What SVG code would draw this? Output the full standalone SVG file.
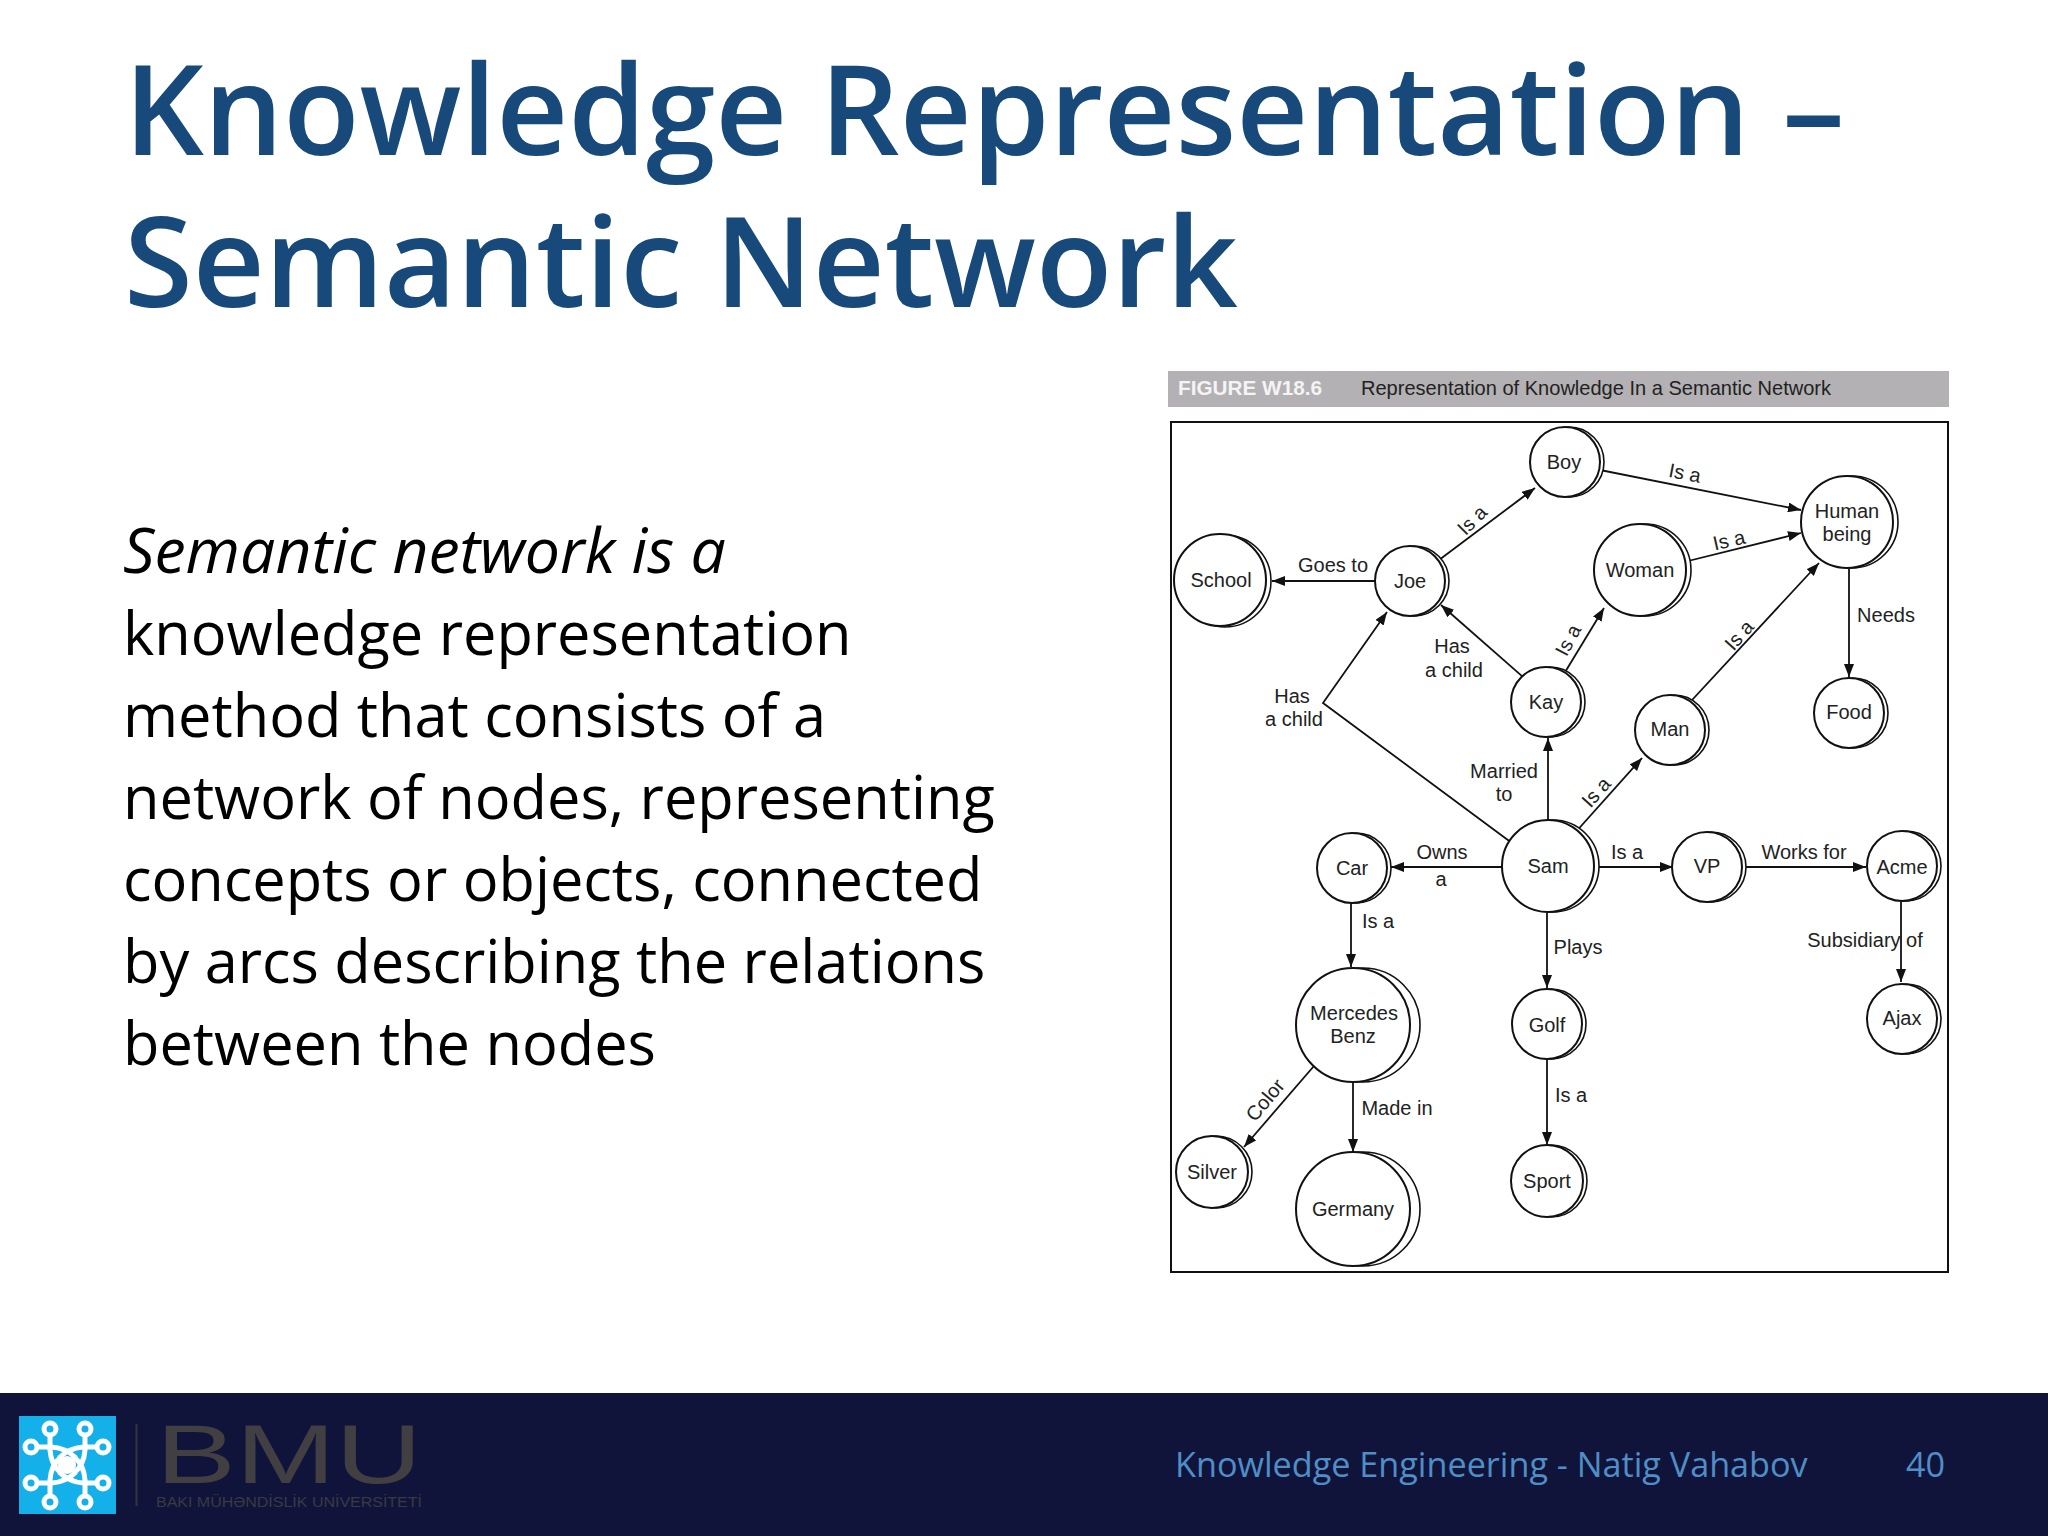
<svg xmlns="http://www.w3.org/2000/svg" width="2048" height="1536" viewBox="0 0 2048 1536">
<style>
.title{font-family:"Open Sans",sans-serif;font-weight:600;font-size:125px;fill:#17497a}
.body{font-family:"Open Sans",sans-serif;font-size:59.500px;fill:#000}
.foot{font-family:"Open Sans",sans-serif;font-size:34.200px;fill:#4f8ec6}
.nt{font-family:"Liberation Sans",Arial,sans-serif;font-size:20px;fill:#222;text-anchor:middle}
.lb{font-family:"Liberation Sans",Arial,sans-serif;font-size:20px;fill:#222;text-anchor:middle}
.m{fill:#fff;stroke:#111;stroke-width:2}
.s{fill:#fff;stroke:#111;stroke-width:1.6}
.c{fill:none;stroke:#111;stroke-width:1.8;marker-end:url(#ah)}
.lg{fill:none;stroke:#fff;stroke-width:5}
</style>
<defs>
<marker id="ah" markerUnits="userSpaceOnUse" markerWidth="14" markerHeight="10" refX="13" refY="5" orient="auto"><path d="M0 0L13 5L0 10z" fill="#111"/></marker>
</defs>
<rect width="2048" height="1536" fill="#fff"/>
<text class="title" x="124" y="155">Knowledge Representation –</text>
<text class="title" x="124" y="307">Semantic Network</text>
<g id="body-text">
<text class="body" x="123" y="573" font-style="italic" style="font-size:62.500px">Semantic network is a</text>
<text class="body" x="123" y="655">knowledge representation</text>
<text class="body" x="123" y="737">method that consists of a</text>
<text class="body" x="123" y="819">network of nodes, representing</text>
<text class="body" x="123" y="901">concepts or objects, connected</text>
<text class="body" x="123" y="983">by arcs describing the relations</text>
<text class="body" x="123" y="1065">between the nodes</text>
</g>
<g id="figure-header">
<rect x="1168" y="371" width="781" height="36" fill="#b3b1b3"/>
<text x="1178" y="395" font-family="'Liberation Sans',Arial,sans-serif" font-weight="700" font-size="20" fill="#f4f4f4" textLength="144" lengthAdjust="spacingAndGlyphs">FIGURE W18.6</text>
<text x="1361" y="395" font-family="'Liberation Sans',Arial,sans-serif" font-size="21" fill="#222" textLength="470" lengthAdjust="spacingAndGlyphs">Representation of Knowledge In a Semantic Network</text>
</g>
<rect id="figure-frame" x="1171" y="422" width="777" height="850" fill="#fff" stroke="#111" stroke-width="2"/>
<g id="connectors">
<path class="c" d="M1377 581H1272"/>
<path class="c" d="M1431 566L1535 488"/>
<path class="c" d="M1590 468L1801 510"/>
<path class="c" d="M1680 563L1801 533"/>
<path class="c" d="M1531 684L1441 605"/>
<path class="c" d="M1556 687L1604 608"/>
<path class="c" d="M1680 713L1819 563"/>
<path class="c" d="M1849 569V677"/>
<path class="c" d="M1520 849L1323 703L1387 612"/>
<path class="c" d="M1548 820V738"/>
<path class="c" d="M1565 844L1642 758"/>
<path class="c" d="M1503 867H1391"/>
<path class="c" d="M1599 867H1673"/>
<path class="c" d="M1745 867H1866"/>
<path class="c" d="M1351 903V967"/>
<path class="c" d="M1547 913V988"/>
<path class="c" d="M1901 902V982"/>
<path class="c" d="M1320 1059L1244 1147"/>
<path class="c" d="M1353 1082V1152"/>
<path class="c" d="M1547 1059V1145"/>
<g id="connector-labels">
<text class="lb" x="1333" y="572">Goes to</text>
<text class="lb" transform="translate(1472 520) rotate(-45)" y="7">Is a</text>
<text class="lb" transform="translate(1685 473) rotate(11)" y="7">Is a</text>
<text class="lb" transform="translate(1729 540) rotate(-13)" y="7">Is a</text>
<text class="lb" x="1452" y="653">Has</text>
<text class="lb" x="1454" y="677">a child</text>
<text class="lb" transform="translate(1568 640) rotate(-62)" y="7">Is a</text>
<text class="lb" transform="translate(1739 635) rotate(-48)" y="7">Is a</text>
<text class="lb" x="1886" y="622">Needs</text>
<text class="lb" x="1292" y="703">Has</text>
<text class="lb" x="1294" y="726">a child</text>
<text class="lb" x="1504" y="778">Married</text>
<text class="lb" x="1504" y="801">to</text>
<text class="lb" transform="translate(1596 792) rotate(-48)" y="7">Is a</text>
<text class="lb" x="1442" y="859">Owns</text>
<text class="lb" x="1441" y="886">a</text>
<text class="lb" x="1627" y="859">Is a</text>
<text class="lb" x="1804" y="859">Works for</text>
<text class="lb" x="1378" y="928">Is a</text>
<text class="lb" x="1578" y="954">Plays</text>
<text class="lb" x="1865" y="947">Subsidiary of</text>
<text class="lb" transform="translate(1265 1100) rotate(-50)" y="7">Color</text>
<text class="lb" x="1397" y="1115">Made in</text>
<text class="lb" x="1571" y="1102">Is a</text>
</g>
</g>
<g id="school"><circle class="s" cx="1225" cy="581" r="46"/><circle class="m" cx="1220" cy="580" r="46"/><text class="nt" x="1221" y="587">School</text></g>
<g id="joe"><circle class="s" cx="1414" cy="581" r="35"/><circle class="m" cx="1410" cy="581" r="35"/><text class="nt" x="1410" y="588">Joe</text></g>
<g id="boy"><circle class="s" cx="1569" cy="462" r="35"/><circle class="m" cx="1565" cy="462" r="35"/><text class="nt" x="1564" y="469">Boy</text></g>
<g id="woman"><circle class="s" cx="1645" cy="570" r="46"/><circle class="m" cx="1640" cy="570" r="46"/><text class="nt" x="1640" y="577">Woman</text></g>
<g id="human-being"><circle class="s" cx="1852" cy="522" r="46"/><circle class="m" cx="1847" cy="522" r="46"/><text class="nt" x="1847" y="518">Human</text><text class="nt" x="1847" y="541">being</text></g>
<g id="kay"><circle class="s" cx="1550" cy="702" r="35"/><circle class="m" cx="1546" cy="702" r="35"/><text class="nt" x="1546" y="709">Kay</text></g>
<g id="man"><circle class="s" cx="1674" cy="730" r="35"/><circle class="m" cx="1670" cy="730" r="35"/><text class="nt" x="1670" y="736">Man</text></g>
<g id="food"><circle class="s" cx="1853" cy="713" r="35"/><circle class="m" cx="1849" cy="713" r="35"/><text class="nt" x="1849" y="719">Food</text></g>
<g id="sam"><circle class="s" cx="1553" cy="866" r="46"/><circle class="m" cx="1548" cy="866" r="46"/><text class="nt" x="1548" y="873">Sam</text></g>
<g id="car"><circle class="s" cx="1356" cy="868" r="35"/><circle class="m" cx="1352" cy="868" r="35"/><text class="nt" x="1352" y="875">Car</text></g>
<g id="vp"><circle class="s" cx="1711" cy="867" r="35"/><circle class="m" cx="1707" cy="867" r="35"/><text class="nt" x="1707" y="873">VP</text></g>
<g id="acme"><circle class="s" cx="1906" cy="866" r="35"/><circle class="m" cx="1902" cy="866" r="35"/><text class="nt" x="1902" y="874">Acme</text></g>
<g id="mercedes-benz"><circle class="s" cx="1363" cy="1025" r="57"/><circle class="m" cx="1353" cy="1025" r="57"/><text class="nt" x="1354" y="1020">Mercedes</text><text class="nt" x="1353" y="1043">Benz</text></g>
<g id="golf"><circle class="s" cx="1551" cy="1024" r="35"/><circle class="m" cx="1547" cy="1024" r="35"/><text class="nt" x="1547" y="1032">Golf</text></g>
<g id="ajax"><circle class="s" cx="1906" cy="1019" r="35"/><circle class="m" cx="1902" cy="1019" r="35"/><text class="nt" x="1902" y="1025">Ajax</text></g>
<g id="silver"><circle class="s" cx="1216" cy="1172" r="36"/><circle class="m" cx="1212" cy="1172" r="36"/><text class="nt" x="1212" y="1179">Silver</text></g>
<g id="germany"><circle class="s" cx="1363" cy="1209" r="57"/><circle class="m" cx="1353" cy="1209" r="57"/><text class="nt" x="1353" y="1216">Germany</text></g>
<g id="sport"><circle class="s" cx="1551" cy="1181" r="36"/><circle class="m" cx="1547" cy="1181" r="36"/><text class="nt" x="1547" y="1188">Sport</text></g>
<g id="footer">
<rect y="1393" width="2048" height="143" fill="#10143a"/>
<text class="foot" x="1175" y="1477">Knowledge Engineering - Natig Vahabov</text>
<text class="foot" x="1906" y="1477">40</text>
<rect x="19" y="1416" width="97" height="98" fill="#13b0ea"/>
<g class="lg">
<circle cx="50" cy="1429" r="6"/><circle cx="85" cy="1429" r="6"/><circle cx="31" cy="1447" r="6"/><circle cx="103" cy="1447" r="6"/><circle cx="31" cy="1483" r="6"/><circle cx="103" cy="1483" r="6"/><circle cx="50" cy="1502" r="6"/><circle cx="85" cy="1502" r="6"/>
<path d="M50 1435V1450Q51 1465 61 1473M85 1435V1450Q84 1465 74 1473M37 1447H52Q66 1448 76 1458M97 1447H83Q69 1448 59 1458M37 1483H52Q66 1482 76 1472M97 1483H83Q69 1482 59 1472M50 1496V1480Q51 1465 61 1457M85 1496V1480Q84 1465 74 1457"/>
</g>
<circle cx="67" cy="1465" r="9" fill="#fff"/>
<rect x="135.500" y="1424" width="2" height="82" fill="#34343f"/>
<text x="156" y="1483" font-family="'Liberation Sans',Arial,sans-serif" font-size="84" fill="#413f42" textLength="266" lengthAdjust="spacingAndGlyphs">BMU</text>
<text x="156" y="1507" font-family="'Liberation Sans',Arial,sans-serif" font-size="14" fill="#3a3a42" textLength="266" lengthAdjust="spacingAndGlyphs">BAKI MÜHƏNDİSLİK UNİVERSİTETİ</text>
</g>
</svg>
